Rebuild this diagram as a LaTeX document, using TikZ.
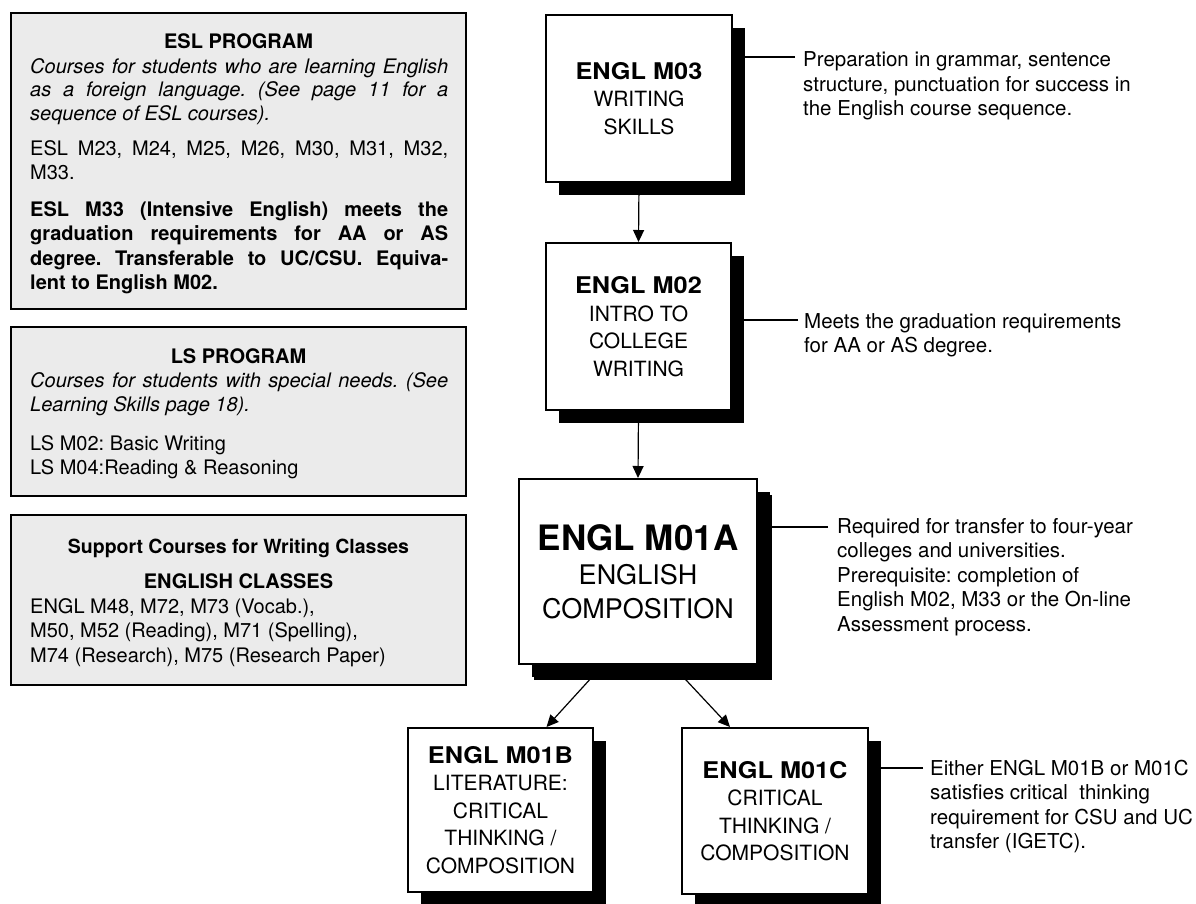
\documentclass[tikz,border=0pt]{standalone}
\usepackage{fontspec}
\setmainfont{TeX Gyre Heros}
\newfontfamily\widefont[FakeStretch=1.1]{TeX Gyre Heros}
\usetikzlibrary{arrows.meta,calc,shadows}
\definecolor{boxgray}{RGB}{235,235,235}
\newcommand{\jl}[1]{\hbox to\hsize{#1}}
\newcommand{\nl}[1]{\hbox{#1}}
\newcommand{\bodyfont}{\fontsize{20}{24.4}\selectfont}
\newcommand{\boldpara}{\fontsize{20}{24.5}\selectfont}
\newcommand{\annfont}{\fontsize{20.5}{24.5}\selectfont}
\frenchspacing
\begin{document}
\begin{tikzpicture}[x=1pt,y=-1pt,
  infobox/.style={draw=black,line width=2pt,fill=boxgray,inner sep=0pt,minimum width=455pt},
  head/.style={anchor=base,inner sep=0pt,font=\bodyfont\bfseries},
  para/.style={anchor=base west,inner sep=0pt},
  course/.style={draw=black,line width=2pt,fill=white,align=center,inner sep=0pt,
     drop shadow={shadow xshift=13pt,shadow yshift=-13pt,fill=black,opacity=1},
     font=\fontsize{21}{27.5}\selectfont},
  ann/.style={anchor=base west,inner sep=0pt},
  lead/.style={line width=1.2pt},
  arr/.style={line width=1.2pt,-{Triangle[length=12pt,width=11pt]}}
]
\useasboundingbox (0,0) rectangle (1196,903);
\fill[white] (0,0) rectangle (1196,903);
\clip (0,0) rectangle (1196,903);

% ---------- left information boxes ----------
\node[infobox,minimum height=296pt] (esl) at (238.5,161) {};
\node[head] (eslh) at (238.5,48.3) {ESL PROGRAM};
\node[para] (eslp1) at (30,73.3) {\parbox[t]{418pt}{\fontsize{20}{23.6}\selectfont\itshape
  \jl{Courses for students who are learning English}
  \jl{as a foreign language. (See page 11 for a}
  \nl{sequence of ESL courses).}}};
\node[para] (eslp2) at (30,155.5) {\parbox[t]{418pt}{\bodyfont
  \jl{ESL M23, M24, M25, M26, M30, M31, M32,}
  \nl{M33.}}};
\node[para] (eslp3) at (30,216) {\parbox[t]{418pt}{\boldpara\bfseries
  \jl{ESL M33 (Intensive English) meets the}
  \jl{graduation requirements for AA or AS}
  \jl{degree. Transferable to UC/CSU. Equiva-}
  \nl{lent to English M02.}}};

\node[infobox,minimum height=169pt] (ls) at (238.5,411.5) {};
\node[head] (lsh) at (238.5,363.8) {LS PROGRAM};
\node[para] (lsp1) at (30,387.5) {\parbox[t]{418pt}{\bodyfont\itshape
  \jl{Courses for students with special needs. (See}
  \nl{Learning Skills page 18).}}};
\node[para] (lsp2) at (30,450.5) {\parbox[t]{418pt}{\bodyfont
  \nl{LS M02: Basic Writing}
  \nl{LS M04:Reading \& Reasoning}}};

\node[infobox,minimum height=170pt] (sup) at (238.5,600) {};
\node[head,font=\fontsize{19.5}{24}\selectfont\bfseries] (suph) at (238.5,553) {Support Courses for Writing Classes};
\node[head] (engh) at (238.5,588.5) {ENGLISH CLASSES};
\node[para] (supp) at (30,613.5) {\parbox[t]{418pt}{\bodyfont
  \nl{ENGL M48, M72, M73 (Vocab.),}
  \nl{M50, M52 (Reading), M71 (Spelling),}
  \nl{M74 (Research), M75 (Research Paper)}}};

% ---------- course boxes ----------
\node[course,minimum width=186pt,minimum height=167pt] (m03) at (639,98.5)
  {{\widefont\bfseries\fontsize{23}{27.5}\selectfont ENGL M03}\\WRITING\\SKILLS};
\node[course,minimum width=185pt,minimum height=167pt] (m02) at (638.5,326.5)
  {{\widefont\bfseries\fontsize{23}{27.5}\selectfont ENGL M02}\\INTRO TO\\COLLEGE\\WRITING};
\node[course,minimum width=238pt,minimum height=185pt,
  drop shadow={shadow xshift=15pt,shadow yshift=-16pt,fill=black,opacity=1},
  font=\fontsize{27}{34}\selectfont] (m01a) at (638,571.5)
  {{\bfseries\fontsize{35}{34}\selectfont ENGL M01A}\\ENGLISH\\COMPOSITION};
\node[course,minimum width=185pt,minimum height=164pt] (m01b) at (500.5,810)
  {{\widefont\bfseries\fontsize{23}{27.5}\selectfont ENGL M01B}\\LITERATURE:\\CRITICAL\\THINKING /\\COMPOSITION};
\node[course,minimum width=186pt,minimum height=166pt] (m01c) at (775,811)
  {{\widefont\bfseries\fontsize{23}{27.5}\selectfont ENGL M01C}\\CRITICAL\\THINKING /\\COMPOSITION};

% ---------- arrows ----------
\draw[arr] (m03.south) -- (m02.north);
\draw[arr] (m02.south) -- (m01a.north);
\draw[arr] ($(m01a.south)+(-35,0)$) -- ($(m01b.north)+(46,0)$);
\draw[arr] ($(m01a.south)+(34,0)$) -- ($(m01c.north)+(-45,0)$);

% ---------- annotations ----------
\node[ann] (a03) at (803,66.5) {\parbox[t]{380pt}{\annfont
  \nl{Preparation in grammar, sentence}
  \nl{structure, punctuation for success in}
  \nl{the English course sequence.}}};
\coordinate (c03) at (795,57);
\draw[lead] (c03) -- (c03 -| m03.east);

\node[ann] (a02) at (804,328) {\parbox[t]{380pt}{\annfont
  \nl{Meets the graduation requirements}
  \nl{for AA or AS degree.}}};
\coordinate (c02) at (798,320);
\draw[lead] (c02) -- (c02 -| m02.east);

\node[ann] (a01a) at (837,533) {\parbox[t]{350pt}{\annfont
  \nl{Required for transfer to four-year}
  \nl{colleges and universities.}
  \nl{Prerequisite: completion of}
  \nl{English M02, M33 or the On-line}
  \nl{Assessment process.}}};
\coordinate (c01a) at (828,527);
\draw[lead] (c01a) -- (c01a -| m01a.east);

\node[ann] (a01c) at (930,775) {\parbox[t]{260pt}{\annfont
  \nl{Either ENGL M01B or M01C}
  \nl{satisfies critical\ \ thinking}
  \nl{requirement for CSU and UC}
  \nl{transfer (IGETC).}}};
\coordinate (c01c) at (923,768);
\draw[lead] (c01c) -- (c01c -| m01c.east);
\end{tikzpicture}
\end{document}
